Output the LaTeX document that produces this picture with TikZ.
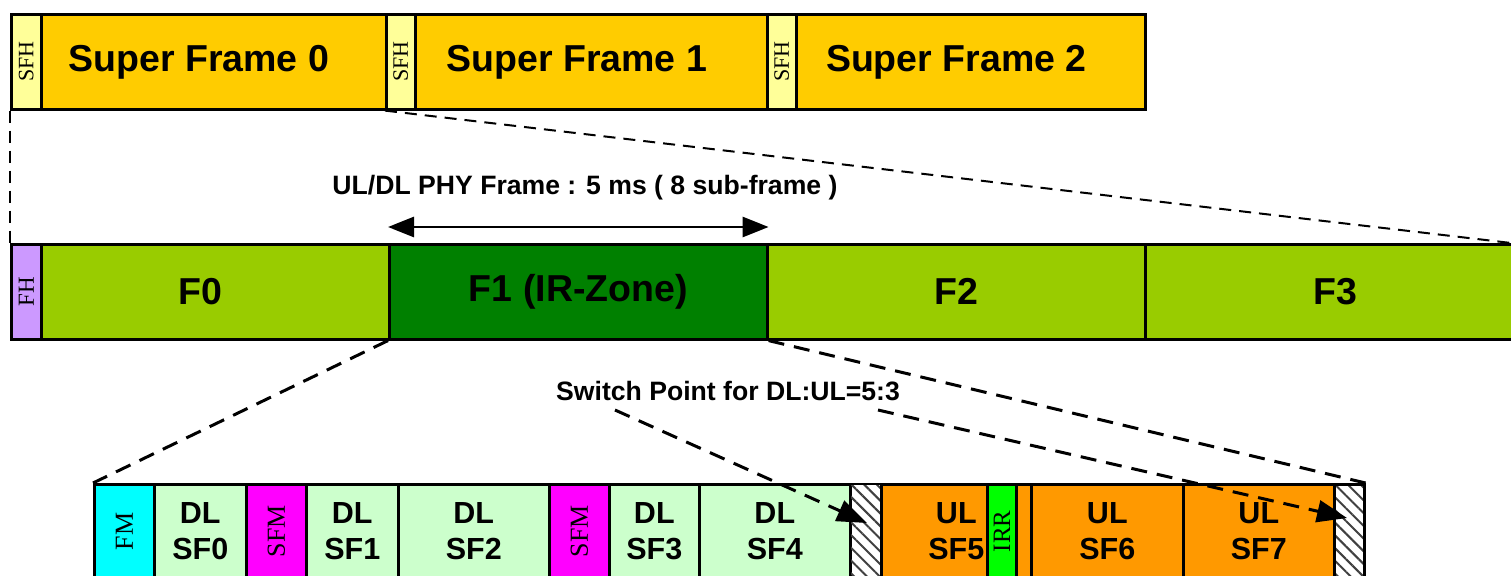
\documentclass[tikz,border=0pt]{standalone}
\usepackage{fontspec}
\setmainfont{Liberation Serif}
\newfontfamily\arialf{Liberation Sans}
\usetikzlibrary{arrows.meta,patterns.meta}
\definecolor{sfy}{HTML}{FFCC00}
\definecolor{sfh}{HTML}{FFFF99}
\definecolor{fgreen}{HTML}{99CC00}
\definecolor{fdark}{HTML}{008000}
\definecolor{fh}{HTML}{CC99FF}
\definecolor{fmc}{HTML}{00FFFF}
\definecolor{dlc}{HTML}{CCFFCC}
\definecolor{sfmc}{HTML}{FF00FF}
\definecolor{ulc}{HTML}{FF9900}
\definecolor{irrc}{HTML}{00FF00}
\tikzset{
  cell/.style={draw=black, line width=2.6pt, inner sep=0pt, anchor=north west},
  big/.style={font=\arialf\bfseries\fontsize{37.5}{40}\selectfont},
  dlt/.style={font=\arialf\bfseries\fontsize{30.5}{35.5}\selectfont, align=center},
  vlab/.style={rotate=90, font=\fontsize{22}{24}\selectfont},
  vlabb/.style={rotate=90, font=\fontsize{26}{28}\selectfont},
  lbl/.style={font=\arialf\bfseries\fontsize{26.6}{28}\selectfont},
  zoomline/.style={dash pattern=on 12pt off 8pt, line width=2pt},
  zoomlinetwo/.style={dash pattern=on 16pt off 10pt, line width=3pt},
  hatch/.style={cell, fill=white, pattern={Lines[angle=-45,distance=9pt,line width=2pt]}, pattern color=black!75},
  tipend/.style={-{Triangle[length=30pt,width=22pt]}}
}
\begin{document}
\begin{tikzpicture}[x=1pt,y=-1pt]
\clip (0,0) rectangle (1511,575);
\fill[white] (0,0) rectangle (1511,575);
% top row
\node[cell, fill=sfy, minimum width=375, minimum height=95, big] (sf0) at (10,13) {Super Frame 0};
\node[cell, fill=sfh, minimum width=30, minimum height=95] (sfh0) at (10,13) {};
\node[vlab] at (sfh0.center) {SFH};
\node[cell, fill=sfy, minimum width=381, minimum height=95, big] (sf1) at (385,13) {Super Frame 1};
\node[cell, fill=sfh, minimum width=29, minimum height=95] (sfh1) at (385,13) {};
\node[vlab] at (sfh1.center) {SFH};
\node[cell, fill=sfy, minimum width=378, minimum height=95, big] (sf2) at (766,13) {Super Frame 2};
\node[cell, fill=sfh, minimum width=29, minimum height=95] (sfh2) at (766,13) {};
\node[vlab] at (sfh2.center) {SFH};
% middle row
\node[cell, fill=fgreen, minimum width=378, minimum height=95, big] (f0) at (10,243) {F0};
\node[cell, fill=fh, minimum width=30, minimum height=95] (fh) at (10,243) {};
\node[vlab, font=\fontsize{23}{25}\selectfont] at (fh.center) {FH};
\node[cell, fill=fdark, minimum width=378, minimum height=95, big] (f1) at (388,243) {F1 (IR-Zone)};
\node[cell, fill=fgreen, minimum width=378, minimum height=95, big] (f2) at (766,243) {F2};
\node[cell, fill=fgreen, minimum width=380, minimum height=95, big] (f3) at (1144,243) {F3};
% bottom row
\node[cell, fill=fmc, minimum width=60, minimum height=94] (fm) at (93,483) {};
\node[vlabb] at (fm.center) {FM};
\node[cell, fill=dlc, minimum width=92, minimum height=94, dlt] (dl0) at (153,483) {DL\\SF0};
\node[cell, fill=sfmc, minimum width=60, minimum height=94] (sfma) at (245,483) {};
\node[vlabb] at (sfma.center) {SFM};
\node[cell, fill=dlc, minimum width=92, minimum height=94, dlt] (dl1) at (305,483) {DL\\SF1};
\node[cell, fill=dlc, minimum width=151, minimum height=94, dlt] (dl2) at (397,483) {DL\\SF2};
\node[cell, fill=sfmc, minimum width=60, minimum height=94] (sfmb) at (548,483) {};
\node[vlabb] at (sfmb.center) {SFM};
\node[cell, fill=dlc, minimum width=90, minimum height=94, dlt] (dl3) at (608,483) {DL\\SF3};
\node[cell, fill=dlc, minimum width=151, minimum height=94, dlt] (dl4) at (698,483) {DL\\SF4};
\node[hatch, minimum width=31, minimum height=94] (hatcha) at (849,483) {};
\node[cell, fill=ulc, minimum width=150, minimum height=94, dlt] (ul5) at (880,483) {UL\\SF5};
\node[cell, fill=irrc, minimum width=29, minimum height=94] (irr) at (986,483) {};
\node[vlab, font=\fontsize{25}{27}\selectfont] at (irr.center) {IRR};
\node[cell, fill=ulc, minimum width=152, minimum height=94, dlt] (ul6) at (1030,483) {UL\\SF6};
\node[cell, fill=ulc, minimum width=151, minimum height=94, dlt] (ul7) at (1182,483) {UL\\SF7};
\node[hatch, minimum width=30, minimum height=94] (hatchb) at (1333,483) {};
% labels
\node[lbl] (title) at (585,188) {UL/DL PHY Frame : 5 ms ( 8 sub-frame )};
\node[lbl] (swt) at (728,391) {Switch Point for DL:UL=5:3};
% coordinates
\coordinate (refend) at (1511,243);
\coordinate (swa) at (615,410);
\coordinate (tipa) at (867,523);
\coordinate (swb) at (878,410);
\coordinate (tipb) at (1347,518);
% connectors
\draw[line width=2.8pt, {Triangle[length=26pt,width=20pt]}-{Triangle[length=26pt,width=20pt]}]
  ([yshift=16pt]f1.north west) -- ([yshift=16pt]f1.north east);
\draw[zoomline] (sfh0.south west) -- (fh.north west);
\draw[zoomline] (sfh1.south west) -- (refend);
\draw[zoomlinetwo] (f1.south west) -- (fm.north west);
\draw[zoomlinetwo] (f1.south east) -- (hatchb.north east);
\draw[zoomlinetwo, tipend] (swa) -- (tipa);
\draw[zoomlinetwo, tipend] (swb) -- (tipb);
\end{tikzpicture}
\end{document}
